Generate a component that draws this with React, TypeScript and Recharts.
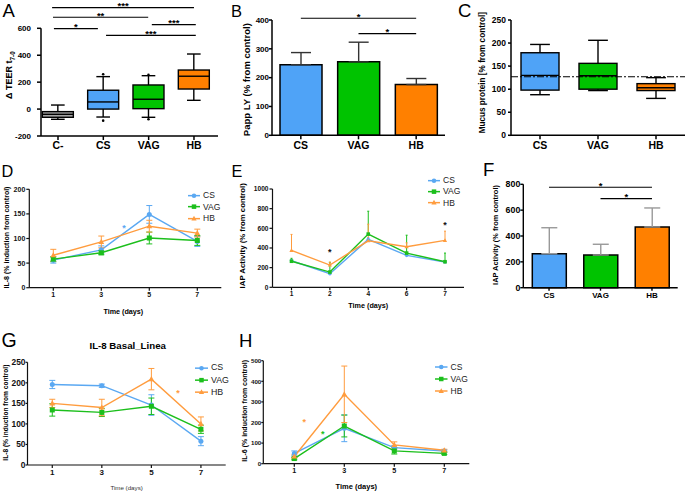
import React from "react";
import {
  ComposedChart,
  LineChart,
  BarChart,
  Bar,
  Line,
  Cell,
  XAxis,
  YAxis,
  ErrorBar,
  ReferenceLine,
  ReferenceDot,
  Legend,
} from "recharts";

const FONT = "'Liberation Sans', Arial, Helvetica, sans-serif";

const BLUE = "#4fa3f7";
const GREEN = "#00c300";
const ORANGE = "#ff8000";
const GRAY = "#a5a5a5";
const BLUE_L = "#5aa8f2";
const GREEN_L = "#1cbf1c";
const ORANGE_L = "#ff9c3e";

// A - delta TEER (box plot)
const teerGroups = ["C-", "CS", "VAG", "HB"];
const teerMin = [-76, -59, -61, 65];
const teerQ1 = [-61, 0, 3, 149];
const teerMedian = [-39, 53, 73, 244];
const teerQ3 = [-19, 140, 179, 290];
const teerMax = [30, 241, 248, 409];
const teerOutliers = [[], [259, -86], [254, -76], []];
const teerSigFrom = [0.87, 0.89, 0.91, 3.07, 2.06];
const teerSigTo = [4.0, 2.99, 1.88, 4.04, 4.04];
const teerSigY = [754, 682, 597, 627, 548];
const teerSigMark = ["***", "**", "*", "***", "***"];

// B - Papp LY
const pappGroups = ["CS", "VAG", "HB"];
const pappMean = [245, 255, 176];
const pappSd = [42, 68, 21];
const pappSigFrom = ["CS", "VAG"];
const pappSigTo = ["HB", "HB"];
const pappSigY = [406, 353];

// C - mucus protein (box plot)
const mucusGroups = ["CS", "VAG", "HB"];
const mucusMin = [88, 97, 80];
const mucusQ1 = [98, 100, 97];
const mucusMedian = [130, 129, 103];
const mucusQ3 = [179, 156, 112];
const mucusMax = [197, 206, 125];
const mucusControl = 127;

// D - IL-8 time course
const il8Days = [1, 3, 5, 7];
const il8Cs = [56, 77, 149, 94];
const il8CsErr = [6, 8, 18, 10];
const il8Vag = [58, 71, 101, 96];
const il8VagErr = [5, 4, 12, 10];
const il8Hb = [66, 93, 125, 111];
const il8HbErr = [12, 12, 12, 8];
const il8StarX = [3.95];
const il8StarY = [121];

// E - IAP activity time course (upper error only)
const iapDays = ["1", "2", "4", "6", "7"];
const iapCs = [270, 138, 487, 325, 257];
const iapCsErr = [15, 25, 20, 25, 15];
const iapVag = [265, 155, 541, 348, 260];
const iapVagErr = [30, 99, 233, 182, 88];
const iapHb = [375, 226, 473, 412, 477];
const iapHbErr = [163, 30, 169, 40, 94];
const iapStarX = ["2", "7"];
const iapStarY = [360, 632];

// F - IAP activity totals
const iapTotGroups = ["CS", "VAG", "HB"];
const iapTotMean = [263, 253, 470];
const iapTotSd = [201, 83, 147];
const iapTotSigFrom = ["CS", "VAG"];
const iapTotSigTo = ["HB", "HB"];
const iapTotSigY = [777, 689];

// G - IL-8 basal line
const basalDays = [1, 3, 5, 7];
const basalCs = [196, 193, 146, 58];
const basalCsErr = [10, 4, 25, 11];
const basalVag = [134, 128, 143, 87];
const basalVagErr = [15, 10, 20, 10];
const basalHb = [150, 140, 209, 100];
const basalHbErr = [10, 20, 26, 17];
const basalStarX = [6.07];
const basalStarY = [175];

// H - IL-6 time course
const il6Days = [1, 3, 5, 7];
const il6Cs = [50, 172, 78, 62];
const il6CsErr = [12, 65, 10, 5];
const il6Vag = [25, 183, 62, 50];
const il6VagErr = [6, 53, 15, 5];
const il6Hb = [35, 337, 91, 65];
const il6HbErr = [8, 137, 15, 5];
const il6StarX = [1.4, 2.14];
const il6StarY = [203, 143];

type Box = { left: number; top: number; w: number; h: number };
type Plot = { x0: number; x1: number; y0: number; y1: number };

// chart size + margins so the plot area lands on the given rectangle
function frame(box: Box, plot: Plot, xAxisH: number) {
  return {
    width: box.w,
    height: box.h,
    yWidth: plot.x0 - box.left,
    margin: {
      top: plot.y0 - box.top,
      right: box.left + box.w - plot.x1,
      bottom: box.top + box.h - plot.y1 - xAxisH,
      left: 0,
    },
  };
}

function Panel({ box, children }: any) {
  return (
    <div style={{ position: "absolute", left: box.left, top: box.top, width: box.w, height: box.h }}>
      {children}
    </div>
  );
}

function YTitle(props: any) {
  const { viewBox, text, sub, ox = 0, oy = 0, fs = 8 } = props;
  const vb = viewBox || { x: 0, y: 0, width: 0, height: 0 };
  const cx = vb.x + ox;
  const cy = vb.y + vb.height / 2 + oy;
  return (
    <text
      x={cx}
      y={cy}
      transform={`rotate(-90 ${cx} ${cy})`}
      textAnchor="middle"
      dominantBaseline="central"
      fontSize={fs}
      fontWeight={700}
      fill="#000"
      fontFamily={FONT}
    >
      <tspan>{text}</tspan>
      {sub ? (
        <tspan fontSize={fs * 0.7} dy={fs * 0.3}>
          {sub}
        </tspan>
      ) : null}
    </text>
  );
}

function XTitle(props: any) {
  const { viewBox, text, ox = 0, oy = 0, fs = 7, weight = 700, color = "#000" } = props;
  const vb = viewBox || { x: 0, y: 0, width: 0, height: 0 };
  return (
    <text
      x={vb.x + vb.width / 2 + ox}
      y={vb.y + oy}
      textAnchor="middle"
      dominantBaseline="central"
      fontSize={fs}
      fontWeight={weight}
      fill={color}
      fontFamily={FONT}
    >
      {text}
    </text>
  );
}

function BoxShape(props: any) {
  const { x, y, width, height, payload, capRatio = 0.22 } = props;
  if (!payload || x == null) return <g />;
  const top = Math.min(y, y + height);
  const h = Math.abs(height);
  const span = payload.q3 - payload.q1;
  const py = (v: number) => top + ((payload.q3 - v) / span) * h;
  const cx = x + width / 2;
  const cap = width * capRatio;
  return (
    <g stroke="#000" strokeWidth={1.4}>
      <line x1={cx} x2={cx} y1={py(payload.hi)} y2={top} />
      <line x1={cx} x2={cx} y1={top + h} y2={py(payload.lo)} />
      <line x1={cx - cap} x2={cx + cap} y1={py(payload.hi)} y2={py(payload.hi)} />
      <line x1={cx - cap} x2={cx + cap} y1={py(payload.lo)} y2={py(payload.lo)} />
      <rect x={x} y={top} width={width} height={h} fill={payload.fill} />
      <line x1={x} x2={x + width} y1={py(payload.med)} y2={py(payload.med)} />
      {(payload.outliers || []).map((o: number, k: number) => (
        <circle key={k} cx={cx} cy={py(o)} r={1.3} fill="#000" stroke="none" />
      ))}
    </g>
  );
}

function Marker({ kind, cx, cy, color, s }: any) {
  if (kind === "square") return <rect x={cx - s / 2} y={cy - s / 2} width={s} height={s} fill={color} />;
  if (kind === "triangle")
    return (
      <polygon
        points={`${cx},${cy - s * 0.62} ${cx - s * 0.58},${cy + s * 0.42} ${cx + s * 0.58},${cy + s * 0.42}`}
        fill={color}
      />
    );
  return <circle cx={cx} cy={cy} r={s / 2} fill={color} />;
}

const dotOf = (kind: string, color: string, s: number) => (p: any) =>
  p.cx == null ? (
    <g key={`n${p.index}`} />
  ) : (
    <Marker key={`m${p.index}`} kind={kind} cx={p.cx} cy={p.cy} color={color} s={s} />
  );

const LEGEND_ORDER = ["CS", "VAG", "HB"];
const LEGEND_KIND: Record<string, string> = { CS: "circle", VAG: "square", HB: "triangle" };

function makeLegend(rowH: number, lineW: number, fs: number, gap: number) {
  return (props: any) => {
    const items = [...(props.payload || [])].sort(
      (a: any, b: any) => LEGEND_ORDER.indexOf(a.value) - LEGEND_ORDER.indexOf(b.value)
    );
    return (
      <div style={{ fontFamily: FONT, fontSize: fs, color: "#222" }}>
        {items.map((item: any) => (
          <div key={item.value} style={{ height: rowH, display: "flex", alignItems: "center" }}>
            <svg width={lineW} height={rowH} style={{ display: "block" }}>
              <line x1={0} x2={lineW} y1={rowH / 2} y2={rowH / 2} stroke={item.color} strokeWidth={1.5} />
              <Marker kind={LEGEND_KIND[item.value]} cx={lineW / 2} cy={rowH / 2} color={item.color} s={4.5} />
            </svg>
            <span style={{ marginLeft: gap, lineHeight: 1 }}>{item.value}</span>
          </div>
        ))}
      </div>
    );
  };
}

const axis = (w: number, c = "#000") => ({ stroke: c, strokeWidth: w });
const tickStyle = (fs: number, c = "#000") => ({ fontSize: fs, fontWeight: 700, fill: c, fontFamily: FONT });
const sigLabel = (mark: string) => ({
  value: mark,
  position: "top" as const,
  offset: -1.5,
  fontSize: 9.5,
  fontWeight: 700,
  fill: "#000",
  fontFamily: FONT,
});

function PanelA() {
  const box = { left: 0, top: 0, w: 230, h: 160 };
  const f = frame(box, { x0: 41, x1: 218, y0: 28.3, y1: 136 }, 20);
  const colors = [GRAY, BLUE, GREEN, ORANGE];
  const data = teerGroups.map((g, i) => ({
    pos: i + 1,
    name: g,
    box: [teerQ1[i], teerQ3[i]],
    q1: teerQ1[i],
    q3: teerQ3[i],
    med: teerMedian[i],
    lo: teerMin[i],
    hi: teerMax[i],
    outliers: teerOutliers[i],
    fill: colors[i],
  }));
  return (
    <Panel box={box}>
      <ComposedChart width={f.width} height={f.height} margin={f.margin} data={data}>
        <XAxis
          type="number"
          dataKey="pos"
          domain={[0.625, 4.53]}
          ticks={[1, 2, 3, 4]}
          tickFormatter={(v: number) => teerGroups[v - 1]}
          interval={0}
          height={20}
          tick={tickStyle(10.5)}
          axisLine={axis(1.5)}
          tickLine={axis(1.5)}
          tickSize={4}
          tickMargin={2}
        />
        <YAxis
          domain={[-200, 600]}
          ticks={[-200, 0, 200, 400, 600]}
          interval={0}
          width={f.yWidth}
          tick={tickStyle(8)}
          axisLine={axis(1.5)}
          tickLine={axis(1.5)}
          tickSize={4}
          tickMargin={6}
          label={<YTitle text="Δ TEER t" sub="7-0" ox={9} oy={-7} fs={9} />}
        />
        <Bar
          dataKey="box"
          barSize={31}
          isAnimationActive={false}
          shape={(p: any) => <BoxShape {...p} capRatio={0.22} />}
        />
        {teerSigY.map((y, i) => (
          <ReferenceLine
            key={i}
            segment={[
              { x: teerSigFrom[i], y },
              { x: teerSigTo[i], y },
            ]}
            stroke="#000"
            strokeWidth={1.2}
            ifOverflow="visible"
            label={sigLabel(teerSigMark[i])}
          />
        ))}
      </ComposedChart>
    </Panel>
  );
}

function PanelB() {
  const box = { left: 225, top: 0, w: 225, h: 160 };
  const f = frame(box, { x0: 272, x1: 445, y0: 20, y1: 135.3 }, 20);
  const colors = [BLUE, GREEN, ORANGE];
  const data = pappGroups.map((g, i) => ({ name: g, mean: pappMean[i], err: [0, pappSd[i]] }));
  return (
    <Panel box={box}>
      <BarChart width={f.width} height={f.height} margin={f.margin} data={data}>
        <XAxis
          dataKey="name"
          interval={0}
          height={20}
          tick={tickStyle(10.5)}
          axisLine={axis(1.5)}
          tickLine={axis(1.5)}
          tickSize={4}
          tickMargin={2}
        />
        <YAxis
          domain={[0, 400]}
          ticks={[0, 100, 200, 300, 400]}
          interval={0}
          width={f.yWidth}
          tick={tickStyle(8)}
          axisLine={axis(1.5)}
          tickLine={axis(1.5)}
          tickSize={3}
          tickMargin={0}
          label={<YTitle text="Papp LY (% from control)" ox={21} oy={2} fs={9.5} />}
        />
        <Bar dataKey="mean" barSize={42} stroke="#000" strokeWidth={1.5} isAnimationActive={false}>
          {data.map((d, i) => (
            <Cell key={d.name} fill={colors[i]} />
          ))}
          <ErrorBar dataKey="err" direction="y" width={10} stroke="#333" strokeWidth={1.4} />
        </Bar>
        {pappSigY.map((y, i) => (
          <ReferenceLine
            key={i}
            segment={[
              { x: pappSigFrom[i], y },
              { x: pappSigTo[i], y },
            ]}
            stroke="#000"
            strokeWidth={1.2}
            ifOverflow="visible"
            label={sigLabel("*")}
          />
        ))}
      </BarChart>
    </Panel>
  );
}

function PanelC() {
  const box = { left: 455, top: 0, w: 230, h: 160 };
  const f = frame(box, { x0: 511, x1: 685, y0: 20, y1: 135.3 }, 20);
  const colors = [BLUE, GREEN, ORANGE];
  const data = mucusGroups.map((g, i) => ({
    name: g,
    box: [mucusQ1[i], mucusQ3[i]],
    q1: mucusQ1[i],
    q3: mucusQ3[i],
    med: mucusMedian[i],
    lo: mucusMin[i],
    hi: mucusMax[i],
    outliers: [],
    fill: colors[i],
  }));
  return (
    <Panel box={box}>
      <ComposedChart width={f.width} height={f.height} margin={f.margin} data={data}>
        <XAxis
          dataKey="name"
          interval={0}
          height={20}
          tick={tickStyle(10.5)}
          axisLine={axis(1.5)}
          tickLine={axis(1.5)}
          tickSize={4}
          tickMargin={2}
        />
        <YAxis
          domain={[0, 250]}
          ticks={[0, 50, 100, 150, 200, 250]}
          interval={0}
          width={f.yWidth}
          tick={tickStyle(8.5)}
          axisLine={axis(1.5)}
          tickLine={axis(1.5)}
          tickSize={3}
          tickMargin={2}
          label={<YTitle text="Mucus protein [% from control]" ox={27} oy={-5} fs={8.2} />}
        />
        <Bar
          dataKey="box"
          barSize={38}
          isAnimationActive={false}
          shape={(p: any) => <BoxShape {...p} capRatio={0.26} />}
        />
        <ReferenceLine y={mucusControl} stroke="#000" strokeWidth={1.2} strokeDasharray="7 2 2 2" />
      </ComposedChart>
    </Panel>
  );
}

function PanelBarsF() {
  const box = { left: 455, top: 150, w: 230, h: 165 };
  const f = frame(box, { x0: 523.3, x1: 677.7, y0: 184.3, y1: 287.7 }, 20);
  const colors = [BLUE, GREEN, ORANGE];
  const data = iapTotGroups.map((g, i) => ({ name: g, mean: iapTotMean[i], err: [0, iapTotSd[i]] }));
  return (
    <Panel box={box}>
      <BarChart width={f.width} height={f.height} margin={f.margin} data={data}>
        <XAxis
          dataKey="name"
          interval={0}
          height={20}
          tick={tickStyle(8)}
          axisLine={axis(1.4)}
          tickLine={axis(1.4)}
          tickSize={3}
          tickMargin={2}
        />
        <YAxis
          domain={[0, 800]}
          ticks={[0, 200, 400, 600, 800]}
          interval={0}
          width={f.yWidth}
          tick={tickStyle(8.8)}
          axisLine={axis(1.4)}
          tickLine={axis(1.4)}
          tickSize={3}
          tickMargin={0}
          label={<YTitle text="IAP Activity (% from control)" ox={40} oy={-1} fs={7.4} />}
        />
        <Bar dataKey="mean" barSize={34} stroke="#000" strokeWidth={1.5} isAnimationActive={false}>
          {data.map((d, i) => (
            <Cell key={d.name} fill={colors[i]} />
          ))}
          <ErrorBar dataKey="err" direction="y" width={8} stroke="#999" strokeWidth={1.4} />
        </Bar>
        {iapTotSigY.map((y, i) => (
          <ReferenceLine
            key={i}
            segment={[
              { x: iapTotSigFrom[i], y },
              { x: iapTotSigTo[i], y },
            ]}
            stroke="#000"
            strokeWidth={1.2}
            ifOverflow="visible"
            label={sigLabel("*")}
          />
        ))}
      </BarChart>
    </Panel>
  );
}

function TimeCourse(props: any) {
  const {
    box, plot, xH, days, xDomain, xPad, yTicks, series, starX, starY, starColor,
    legendLeft, legendTop, rowH, legendLine, legendFs, yTitle, xTitle, tickFs, yTickFs,
    yTickMargin = 1, yTickSize = 3, dotSize, capW, errW,
  } = props;
  const f = frame(box, plot, xH);
  const categorical = typeof days[0] === "string";
  const data = days.map((d: any, i: number) => {
    const row: any = { day: d };
    series.forEach((s: any) => {
      row[s.key] = s.values[i];
      row[s.key + "Err"] = s.upOnly ? [0, s.err[i]] : s.err[i];
    });
    return row;
  });
  const tick = tickStyle(tickFs, "#111");
  const yTick = tickStyle(yTickFs ?? tickFs, "#111");
  return (
    <Panel box={box}>
      <LineChart width={f.width} height={f.height} margin={f.margin} data={data}>
        {categorical ? (
          <XAxis
            dataKey="day"
            type="category"
            padding={xPad}
            interval={0}
            height={xH}
            tick={tick}
            axisLine={axis(1.2, "#111")}
            tickLine={axis(1.2, "#111")}
            tickSize={3}
            tickMargin={1}
            label={xTitle}
          />
        ) : (
          <XAxis
            type="number"
            dataKey="day"
            domain={xDomain}
            ticks={days}
            interval={0}
            height={xH}
            tick={tick}
            axisLine={axis(1.2, "#111")}
            tickLine={axis(1.2, "#111")}
            tickSize={3}
            tickMargin={1}
            label={xTitle}
          />
        )}
        <YAxis
          domain={[yTicks[0], yTicks[yTicks.length - 1]]}
          ticks={yTicks}
          interval={0}
          width={f.yWidth}
          tick={yTick}
          axisLine={axis(1.2, "#111")}
          tickLine={axis(1.2, "#111")}
          tickSize={yTickSize}
          tickMargin={yTickMargin}
          label={yTitle}
        />
        {series.map((s: any) => (
          <Line
            key={s.key}
            dataKey={s.key}
            name={s.name}
            stroke={s.color}
            strokeWidth={1.4}
            dot={dotOf(s.kind, s.color, dotSize)}
            activeDot={false}
            isAnimationActive={false}
          >
            <ErrorBar dataKey={s.key + "Err"} direction="y" width={capW} stroke={s.color} strokeWidth={errW} />
          </Line>
        ))}
        {starX.map((x: any, i: number) => (
          <ReferenceDot
            key={i}
            x={x}
            y={starY[i]}
            r={0}
            fill="none"
            stroke="none"
            label={{ value: "*", position: "center", fill: starColor[i], fontSize: 9, fontWeight: 700 }}
          />
        ))}
        <Legend
          layout="vertical"
          align="center"
          verticalAlign="middle"
          content={makeLegend(rowH, legendLine, legendFs, 3)}
          wrapperStyle={{ left: legendLeft, top: legendTop, width: "auto", right: "auto", bottom: "auto" }}
        />
      </LineChart>
    </Panel>
  );
}

const letters = [
  { t: "A", x: 2.5, y: 16.7, s: 18.5 },
  { t: "B", x: 231, y: 17, s: 16.5 },
  { t: "C", x: 458, y: 16.7, s: 18.5 },
  { t: "D", x: 1.5, y: 176.7, s: 16.3 },
  { t: "E", x: 231.5, y: 176.7, s: 16.3 },
  { t: "F", x: 483, y: 176, s: 18.5 },
  { t: "G", x: 1.5, y: 347.3, s: 19.5 },
  { t: "H", x: 239, y: 346.7, s: 18.5 },
];

export default function App() {
  return (
    <div
      style={{
        position: "absolute",
        left: 0,
        top: 0,
        width: 685,
        height: 491,
        background: "#fff",
        fontFamily: FONT,
        overflow: "hidden",
      }}
    >
      <svg width={685} height={491} style={{ position: "absolute", left: 0, top: 0 }}>
        {letters.map((l) => (
          <text key={l.t} x={l.x} y={l.y} fontSize={l.s} fontFamily={FONT} fill="#000">
            {l.t}
          </text>
        ))}
        <text x={127.7} y={345} textAnchor="middle" dominantBaseline="central" fontSize={9.7} fontWeight={700} fontFamily={FONT}>
          IL-8 Basal_Linea
        </text>
      </svg>
      <PanelA />
      <PanelB />
      <PanelC />
      <TimeCourse
        box={{ left: 0, top: 150, w: 230, h: 170 }}
        plot={{ x0: 29.3, x1: 221.3, y0: 189.3, y1: 287.7 }}
        xH={30}
        days={il8Days}
        xDomain={[0, 8]}
        yTicks={[0, 50, 100, 150, 200]}
        series={[
          { key: "cs", name: "CS", values: il8Cs, err: il8CsErr, color: BLUE_L, kind: "circle" },
          { key: "vag", name: "VAG", values: il8Vag, err: il8VagErr, color: GREEN_L, kind: "square" },
          { key: "hb", name: "HB", values: il8Hb, err: il8HbErr, color: ORANGE_L, kind: "triangle" },
        ]}
        starX={il8StarX}
        starY={il8StarY}
        starColor={[BLUE_L]}
        legendLeft={188}
        legendTop={40}
        rowH={11.3}
        legendLine={12}
        legendFs={8.5}
        tickFs={7}
        dotSize={5}
        capW={3}
        errW={1}
        yTitle={<YTitle text="IL-8 (% induction from control)" ox={5.5} oy={-1} fs={7} />}
        xTitle={<XTitle text="Time (days)" ox={-2} oy={24} fs={7.2} />}
      />
      <TimeCourse
        box={{ left: 225, top: 150, w: 245, h: 165 }}
        plot={{ x0: 272.5, x1: 464, y0: 189, y1: 287.3 }}
        xH={25}
        days={iapDays}
        xPad={{ left: 19, right: 19 }}
        yTicks={[0, 200, 400, 600, 800, 1000]}
        series={[
          { key: "cs", name: "CS", values: iapCs, err: iapCsErr, upOnly: true, color: BLUE_L, kind: "circle" },
          { key: "vag", name: "VAG", values: iapVag, err: iapVagErr, upOnly: true, color: GREEN_L, kind: "square" },
          { key: "hb", name: "HB", values: iapHb, err: iapHbErr, upOnly: true, color: ORANGE_L, kind: "triangle" },
        ]}
        starX={iapStarX}
        starY={iapStarY}
        starColor={["#111", "#111"]}
        legendLeft={203}
        legendTop={24.7}
        rowH={11.3}
        legendLine={12}
        legendFs={8.5}
        tickFs={6.6}
        dotSize={3.6}
        capW={1}
        errW={1}
        yTitle={<YTitle text="IAP Activity (% from control)" ox={16.7} oy={-2.4} fs={7.8} />}
        xTitle={<XTitle text="Time (days)" ox={0} oy={17.7} fs={7.2} />}
      />
      <PanelBarsF />
      <TimeCourse
        box={{ left: 0, top: 315, w: 240, h: 176 }}
        plot={{ x0: 27.5, x1: 225.7, y0: 362.3, y1: 465 }}
        xH={25}
        days={basalDays}
        xDomain={[0, 8]}
        yTicks={[0, 50, 100, 150, 200, 250]}
        series={[
          { key: "cs", name: "CS", values: basalCs, err: basalCsErr, color: BLUE_L, kind: "circle" },
          { key: "vag", name: "VAG", values: basalVag, err: basalVagErr, color: GREEN_L, kind: "square" },
          { key: "hb", name: "HB", values: basalHb, err: basalHbErr, color: ORANGE_L, kind: "triangle" },
        ]}
        starX={basalStarX}
        starY={basalStarY}
        starColor={[ORANGE_L]}
        legendLeft={195}
        legendTop={46.5}
        rowH={12.3}
        legendLine={13}
        legendFs={8.8}
        tickFs={8}
        yTickFs={8.4}
        yTickSize={2}
        yTickMargin={0}
        dotSize={5}
        capW={3}
        errW={1}
        yTitle={<YTitle text="IL-8 (% induction from control)" ox={5.5} oy={-1} fs={6.6} />}
        xTitle={<XTitle text="Time (days)" ox={0} oy={22.7} fs={6.2} weight={400} color="#333" />}
      />
      <TimeCourse
        box={{ left: 235, top: 315, w: 240, h: 176 }}
        plot={{ x0: 263.3, x1: 469.3, y0: 360.7, y1: 463.7 }}
        xH={25}
        days={il6Days}
        xDomain={[-0.24, 8]}
        yTicks={[0, 100, 200, 300, 400, 500]}
        series={[
          { key: "cs", name: "CS", values: il6Cs, err: il6CsErr, color: BLUE_L, kind: "circle" },
          { key: "vag", name: "VAG", values: il6Vag, err: il6VagErr, color: GREEN_L, kind: "square" },
          { key: "hb", name: "HB", values: il6Hb, err: il6HbErr, color: ORANGE_L, kind: "triangle" },
        ]}
        starX={il6StarX}
        starY={il6StarY}
        starColor={[ORANGE_L, GREEN_L]}
        legendLeft={200}
        legendTop={46.3}
        rowH={12}
        legendLine={12.5}
        legendFs={8.5}
        tickFs={7.2}
        yTickFs={6.2}
        yTickSize={2}
        yTickMargin={0}
        dotSize={5}
        capW={3}
        errW={1}
        yTitle={<YTitle text="IL-6 (% induction from control)" ox={9.5} oy={-1.4} fs={7} />}
        xTitle={<XTitle text="Time (days)" ox={-10} oy={23} fs={7.5} />}
      />
    </div>
  );
}
